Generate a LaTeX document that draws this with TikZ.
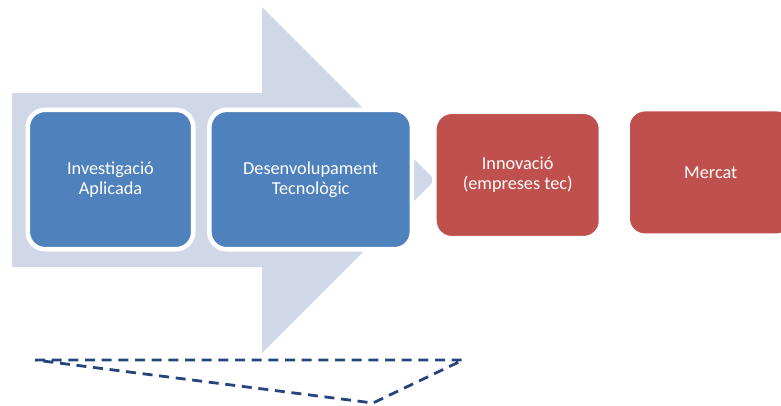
\documentclass[tikz,border=0pt]{standalone}
\usepackage{fontspec}
\setmainfont{Carlito}
\usetikzlibrary{positioning}
\definecolor{arrowgray}{RGB}{208,216,232}
\definecolor{boxblue}{RGB}{79,129,189}
\definecolor{boxred}{RGB}{192,80,77}
\definecolor{dashblue}{RGB}{36,70,124}

\begin{document}
\begin{tikzpicture}[
  x=0.75pt, y=-0.75pt,
  stage/.style    = {draw=white, line width=3.4pt, outer sep=0pt, rounded corners=13pt,
                     text=white, align=center, font=\fontsize{13.7}{15}\selectfont},
  bluebox/.style  = {stage, fill=boxblue, minimum height=104.6pt},
  redbox/.style   = {stage, fill=boxred, minimum width=124.9pt, minimum height=94.9pt},
  dashline/.style = {draw=dashblue, line width=2.1pt, dash pattern=on 7.5pt off 5pt}
]

  % page size of the reference
  \useasboundingbox (0,0) rectangle (781,405);

  % Big background arrow
  \fill[arrowgray] (12,93) -- (262,93) -- (262,7) -- (435,180)
    -- (262,353) -- (262,267) -- (12,267) -- cycle;

  % Investigacio
  \node[bluebox, minimum width=124.1pt] (invest) at (110.5,179.5) {Investigació\\Aplicada};

  % Desenvolupament
  \node[bluebox, minimum width=151.9pt, right=12.1pt of invest] (desenv) {Desenvolupament\\Tecnològic};

  % Innovacio
  \node[redbox, right=16.9pt of desenv, yshift=3.4pt] (innov) {Innovació\\(empreses tec)};

  % Mercat (runs past the right edge)
  \node[redbox, right=19.9pt of innov, yshift=1.9pt] (mercat) {Mercat};

  % Dashed triangle under the arrow
  \coordinate (triL) at (35,360);
  \coordinate (triR) at (463,360);
  \coordinate (triB) at (373,403);
  \draw[dashline] (triL) -- (triR) -- (triB) -- cycle;

\end{tikzpicture}
\end{document}
